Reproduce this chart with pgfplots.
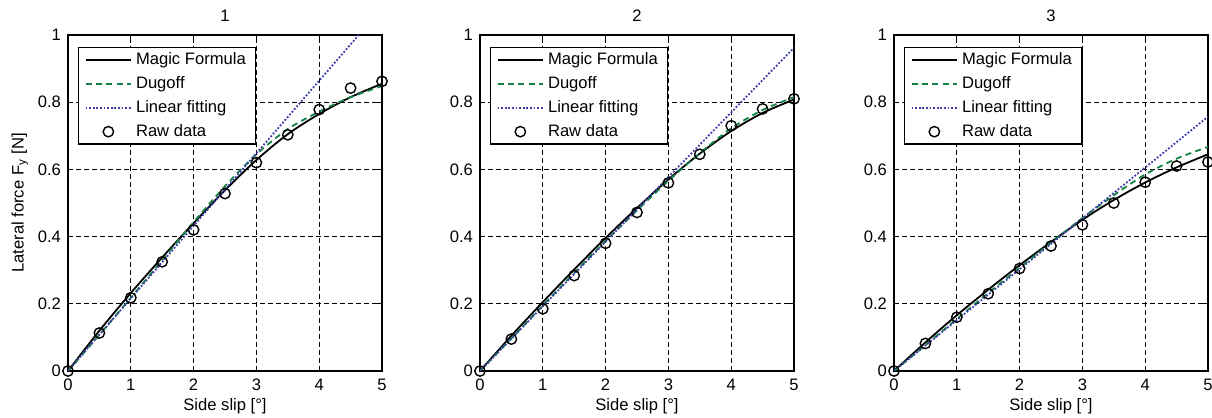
\documentclass[border=0pt]{standalone}
\usepackage{pgfplots}
\pgfplotsset{compat=1.18}
\usepackage{fontspec}
\setmainfont{Liberation Sans}
\definecolor{mgreen}{RGB}{20,130,70}
\definecolor{mblue}{RGB}{60,60,170}
\pgfplotsset{
  myax/.style={
    scale only axis, width=157pt, height=168pt,
    xmin=0, xmax=5, ymin=0, ymax=1,
    xtick={0,1,2,3,4,5}, ytick={0,0.2,0.4,0.6,0.8,1},
    yticklabels={0,0.2,0.4,0.6,0.8,1},
    xticklabels={0,1,2,3,4,5},
    tick align=inside, major tick length=2.5pt,
    xtick pos=both, ytick pos=both,
    grid=major,
    major grid style={black, line width=0.55pt, dash pattern=on 2.4pt off 1.6pt},
    axis line style={black, line width=0.7pt},
    tick style={black, line width=0.5pt},
    font=\fontsize{8.3}{9.6}\selectfont,
    ticklabel style={font=\fontsize{8.3}{9.6}\selectfont},
    /pgf/number format/assume math mode=true,
    xticklabel style={yshift=-0.5pt},
    xlabel={Side slip [°]},
    xlabel style={yshift=3pt},
    title style={yshift=-3pt},
    legend style={at={(rel axis cs:0,1)}, xshift=5pt, yshift=-6pt, anchor=north west,
      draw=black, line width=0.7pt, font=\fontsize{8.3}{9.6}\selectfont,
      inner xsep=3pt, inner ysep=0.5pt, row sep=0.4pt, fill=white},
    legend cell align=left,
    legend image code/.code={\draw[##1, line width=0.9pt] (0cm,0cm) -- (0.8cm,0cm);},
  },
  mf/.style={black, line width=0.9pt, smooth, no marks},
  dg/.style={mgreen, line width=0.9pt, smooth, no marks, dash pattern=on 3pt off 2.2pt},
  lf/.style={mblue, line width=0.9pt, no marks, dash pattern=on 0.9pt off 0.9pt},
  rd/.style={only marks, mark=o, mark size=2.6pt, black, mark options={line width=0.7pt},
    legend image code/.code={\draw[black, line width=0.7pt] (0.4cm,0cm) circle (2.6pt);}},
}
\begin{document}
\begin{tikzpicture}
% Plot 1
\begin{axis}[myax, at={(0pt,0pt)}, title={1}, ylabel={Lateral force F\textsubscript{y} [N]}, ylabel style={yshift=-2pt}]
\addplot[mf] coordinates {(0,0) (0.5,0.12) (1,0.232) (1.5,0.338) (2,0.44) (2.5,0.538) (3,0.628) (3.5,0.705) (4,0.765) (4.5,0.815) (5,0.855)};
\addlegendentry{Magic Formula}
\addplot[dg] coordinates {(0,0) (0.5,0.108) (1,0.218) (1.5,0.33) (2,0.443) (2.5,0.55) (3,0.645) (3.5,0.72) (4,0.772) (4.5,0.815) (5,0.848)};
\addlegendentry{Dugoff}
\addplot[lf] coordinates {(0,0) (5,1.08)};
\addlegendentry{Linear fitting}
\addplot[rd] coordinates {(0,0) (0.5,0.113) (1,0.218) (1.5,0.325) (2,0.42) (2.5,0.528) (3,0.62) (3.5,0.703) (4,0.778) (4.5,0.842) (5,0.862)};
\addlegendentry{Raw data}
\end{axis}
% Plot 2
\begin{axis}[myax, at={(206pt,0pt)}, title={2}]
\addplot[mf] coordinates {(0,0) (0.5,0.105) (1,0.205) (1.5,0.302) (2,0.396) (2.5,0.485) (3,0.57) (3.5,0.647) (4,0.714) (4.5,0.768) (5,0.808)};
\addlegendentry{Magic Formula}
\addplot[dg] coordinates {(0,0) (0.5,0.097) (1,0.195) (1.5,0.292) (2,0.387) (2.5,0.478) (3,0.566) (3.5,0.648) (4,0.722) (4.5,0.777) (5,0.815)};
\addlegendentry{Dugoff}
\addplot[lf] coordinates {(0,0) (5,0.962)};
\addlegendentry{Linear fitting}
\addplot[rd] coordinates {(0,0) (0.5,0.095) (1,0.185) (1.5,0.284) (2,0.38) (2.5,0.472) (3,0.56) (3.5,0.645) (4,0.73) (4.5,0.78) (5,0.81)};
\addlegendentry{Raw data}
\end{axis}
% Plot 3
\begin{axis}[myax, at={(413pt,0pt)}, title={3}]
\addplot[mf] coordinates {(0,0) (0.5,0.085) (1,0.166) (1.5,0.242) (2,0.315) (2.5,0.384) (3,0.45) (3.5,0.509) (4,0.561) (4.5,0.606) (5,0.645)};
\addlegendentry{Magic Formula}
\addplot[dg] coordinates {(0,0) (0.5,0.077) (1,0.155) (1.5,0.232) (2,0.307) (2.5,0.382) (3,0.455) (3.5,0.523) (4,0.585) (4.5,0.632) (5,0.667)};
\addlegendentry{Dugoff}
\addplot[lf] coordinates {(0,0) (5,0.757)};
\addlegendentry{Linear fitting}
\addplot[rd] coordinates {(0,0) (0.5,0.082) (1,0.16) (1.5,0.23) (2,0.305) (2.5,0.372) (3,0.435) (3.5,0.5) (4,0.562) (4.5,0.61) (5,0.622)};
\addlegendentry{Raw data}
\end{axis}
\pgfresetboundingbox
\useasboundingbox (-34pt,-23.5pt) rectangle (572pt,185.5pt);
\end{tikzpicture}
\end{document}
